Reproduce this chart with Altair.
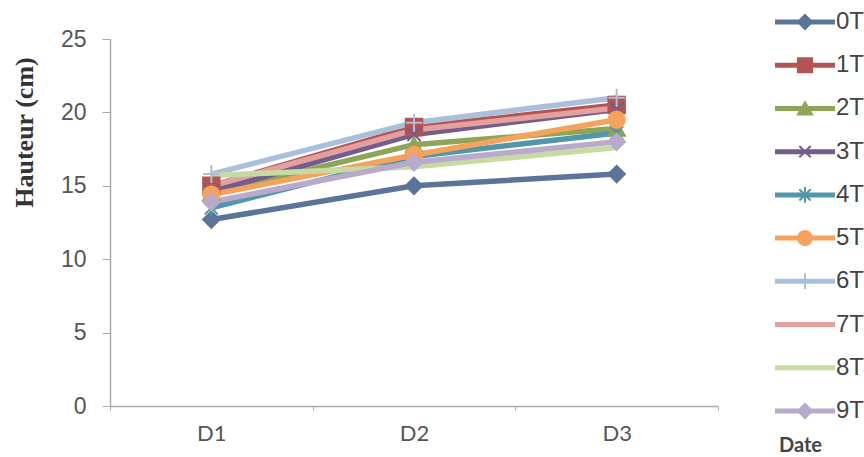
import altair as alt
import pandas as pd

series = ["0T", "1T", "2T", "3T", "4T", "5T", "6T", "7T", "8T", "9T"]
dates = ["D1", "D2", "D3"]
v0T = [12.7, 15.0, 15.8]
v1T = [15.0, 19.0, 20.5]
v2T = [14.5, 17.8, 18.9]
v3T = [14.6, 18.5, 20.2]
v4T = [13.5, 17.0, 18.6]
v5T = [14.4, 17.1, 19.5]
v6T = [15.8, 19.3, 21.0]
v7T = [15.0, 18.8, 20.3]
v8T = [15.7, 16.3, 17.6]
v9T = [13.9, 16.6, 18.0]
y_ticks = [0, 5, 10, 15, 20, 25]

all_vals = [v0T, v1T, v2T, v3T, v4T, v5T, v6T, v7T, v8T, v9T]
rows = []
for s, vals in zip(series, all_vals):
    for d, v in zip(dates, vals):
        rows.append({"series": s, "date": d, "value": v})
df = pd.DataFrame(rows)
leg = pd.DataFrame({"series": series})

colors = ["#5C7499", "#B35452", "#8DA558", "#725D8C", "#5296AA", "#F5A25C",
          "#A9BFDA", "#E4A09E", "#C6DBA2", "#B9AACC"]
X_PATH = "M-0.8,-0.8L0.8,0.8M0.8,-0.8L-0.8,0.8"
STAR_PATH = "M-0.8,-0.8L0.8,0.8M0.8,-0.8L-0.8,0.8M0,-1.1L0,1.1"
PLUS_PATH = "M0,-1.1L0,1.1M-1,0L1,0"
shapes = ["diamond", "square", "triangle-up", X_PATH, STAR_PATH, "circle",
          PLUS_PATH, "circle", "circle", "diamond"]
marked = ["0T", "1T", "2T", "3T", "4T", "5T", "6T", "9T"]

color_scale = alt.Scale(domain=series, range=colors)
shape_scale = alt.Scale(domain=series, range=shapes)

x_enc = alt.X("date:N", sort=dates,
              scale=alt.Scale(type="band", paddingInner=0, paddingOuter=0),
              axis=alt.Axis(title="Date", labelAngle=0, tickBand="extent",
                            labelFont="Lato", labelFontSize=22, labelColor="#555",
                            labelPadding=13, tickSize=4, tickColor="#aaa",
                            domainColor="#aaa", domainWidth=1.5,
                            titleFont="Lato", titleFontWeight="bold",
                            titleFontSize=20, titleColor="#444",
                            titleX=690, titleY=39, titleAnchor="start",
                            titleAlign="center", titleBaseline="middle"))
y_enc = alt.Y("value:Q", scale=alt.Scale(domain=[0, 25], nice=False, zero=True),
              axis=alt.Axis(title="Hauteur (cm)", values=y_ticks, grid=False,
                            labelFont="Liberation Sans", labelFontSize=23,
                            labelColor="#555", labelPadding=16, tickSize=8,
                            tickColor="#aaa", domainColor="#aaa", domainWidth=1.5,
                            titleFont="Liberation Serif", titleFontWeight="bold",
                            titleFontSize=26, titleColor="#333", titleAngle=-90,
                            titleX=-86, titleY=93, titleAlign="center",
                            titleBaseline="middle", titleLimit=300))

lines = alt.Chart(df).mark_line(strokeWidth=5.5).encode(
    x=x_enc, y=y_enc,
    color=alt.Color("series:N", scale=color_scale, legend=None),
    order=alt.Order("date:N"),
)
points = alt.Chart(df).mark_point(filled=True, strokeWidth=2, opacity=1).encode(
    x=x_enc, y=y_enc,
    fill=alt.Fill("series:N", scale=color_scale, legend=None),
    stroke=alt.Stroke("series:N", scale=color_scale, legend=None),
    shape=alt.Shape("series:N", scale=shape_scale, legend=None),
    size=alt.value(270),
).transform_filter(alt.FieldOneOfPredicate(field="series", oneOf=marked))
main = alt.layer(lines, points)

ly = alt.Y("series:N", sort=series,
           scale=alt.Scale(type="point", domain=series, range=[-17, 372], padding=0),
           axis=None)
leg_rule = alt.Chart(leg).mark_rule(strokeWidth=5).encode(
    x=alt.value(665), x2=alt.value(725), y=ly,
    color=alt.Color("series:N", scale=color_scale, legend=None),
)
leg_pt = alt.Chart(leg).mark_point(filled=True, strokeWidth=2, opacity=1).encode(
    x=alt.value(695), y=ly,
    fill=alt.Fill("series:N", scale=color_scale, legend=None),
    stroke=alt.Stroke("series:N", scale=color_scale, legend=None),
    shape=alt.Shape("series:N", scale=shape_scale, legend=None),
    size=alt.value(200),
).transform_filter(alt.FieldOneOfPredicate(field="series", oneOf=marked))
leg_txt = alt.Chart(leg).mark_text(align="left", baseline="middle",
                                   font="Liberation Sans", fontSize=24,
                                   color="#444").encode(
    x=alt.value(726), y=ly, text="series:N",
)
legend = alt.layer(leg_rule, leg_pt, leg_txt)

chart = alt.layer(main, legend).resolve_scale(y="independent").properties(
    width=608, height=367,
    autosize=alt.AutoSizeParams(type="none"),
    padding={"left": 110, "top": 39, "right": 146, "bottom": 51},
    background="white",
).configure_view(stroke=None)

chart.save("out.html", embed_options={"renderer": "svg", "actions": False})
